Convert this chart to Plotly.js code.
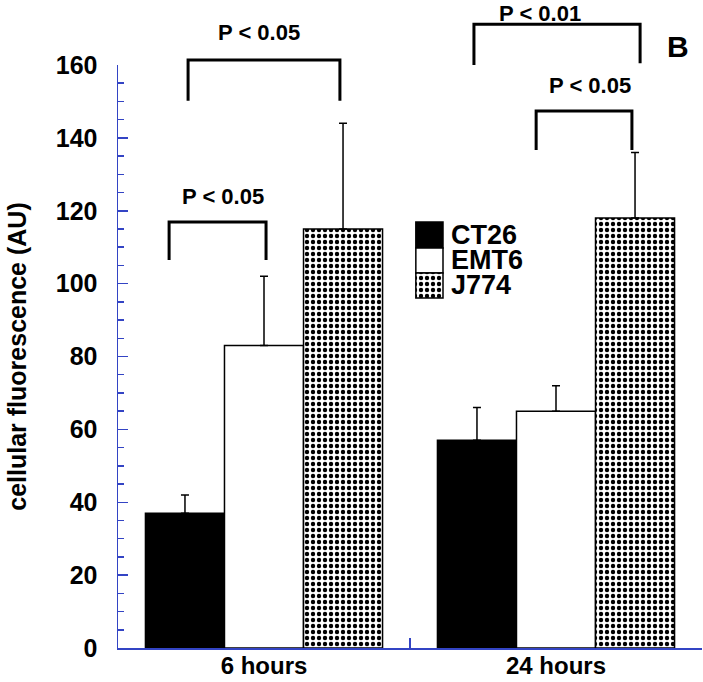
<!DOCTYPE html>
<html>
<head>
<meta charset="utf-8">
<script src="https://cdn.plot.ly/plotly-3.0.1.min.js"></script>
<style>html,body{margin:0;padding:0;background:#fff;}#chart{width:703px;height:682px;}</style>
</head>
<body>
<div id="chart"></div>
<script>
// ---- data ----
var categories = ['6 hours', '24 hours'];
var seriesNames = ['CT26', 'EMT6', 'J774'];
var ct26 = [37, 57];
var ct26Err = [5, 9];
var emt6 = [83, 65];
var emt6Err = [19, 7];
var j774 = [115, 118];
var j774Err = [29, 18];
var yTickVals = [0, 20, 40, 60, 80, 100, 120, 140, 160];

// significance brackets: x in category units, y in data units
var bracketLabels = ['P < 0.05', 'P < 0.05', 'P < 0.01', 'P < 0.05'];
var bracketX0 = [-0.325, -0.260, 0.719, 0.932];
var bracketX1 = [0.007, 0.260, 1.288, 1.260];
var bracketTop = [116.9, 161.4, 171.2, 147.4];
var bracketLeftBottom = [106.5, 150.2, 160.0, 136.7];
var bracketRightBottom = [106.5, 150.2, 160.5, 136.7];
var labelX = [-0.139, -0.017, 0.945, 1.116];
var labelY = [123.8, 168.8, 174.2, 154.5];

// ---- styling ----
var AXIS_BLUE = '#3344c4';
var FONT = 'Liberation Sans, Arial, sans-serif';
var yMax = 160;
function px(xv) { return (xv + 0.5) / categories.length; }
function py(yv) { return yv / yMax; }

var errStyle = function (arr) {
  return {type: 'data', symmetric: false, array: arr, arrayminus: arr.map(function () { return 0; }),
          color: 'black', thickness: 1.5, width: 4, visible: true};
};

var patternJ = {shape: '.', fgcolor: 'black', bgcolor: 'white', size: 6, solidity: 0.42, fillmode: 'replace'};

var traces = [
  {type: 'bar', name: seriesNames[0], x: categories, y: ct26, error_y: errStyle(ct26Err),
   marker: {color: 'black', line: {color: 'black', width: 1.5}}},
  {type: 'bar', name: seriesNames[1], x: categories, y: emt6, error_y: errStyle(emt6Err),
   marker: {color: 'white', line: {color: 'black', width: 1.5}}},
  {type: 'bar', name: seriesNames[2], x: categories, y: j774, error_y: errStyle(j774Err),
   marker: {color: 'white', pattern: patternJ, line: {color: 'black', width: 1.5}}}
];

// legend swatches on a hidden overlay axis (paper-like 0..1)
var swX = 0.510, swW = 0.0465;
var swTops = [0.7307, 0.6861, 0.6432];
var swBottoms = [0.6861, 0.6432, 0.6003];
var swMarkers = [
  {color: 'black', line: {color: 'black', width: 1.5}},
  {color: 'white', line: {color: 'black', width: 1.5}},
  {color: 'white', pattern: patternJ, line: {color: 'black', width: 1.5}}
];
for (var i = 0; i < 3; i++) {
  traces.push({type: 'bar', x: [swX], y: [swTops[i] - swBottoms[i]], base: [swBottoms[i]],
    width: [swW], offset: 0, xaxis: 'x2', yaxis: 'y2', marker: swMarkers[i],
    showlegend: false, hoverinfo: 'skip'});
}

var shapes = [];
var annotations = [];
for (var k = 0; k < bracketLabels.length; k++) {
  shapes.push({type: 'path', xref: 'paper', yref: 'paper',
    path: 'M' + px(bracketX0[k]) + ',' + py(bracketLeftBottom[k]) +
          ' L' + px(bracketX0[k]) + ',' + py(bracketTop[k]) +
          ' L' + px(bracketX1[k]) + ',' + py(bracketTop[k]) +
          ' L' + px(bracketX1[k]) + ',' + py(bracketRightBottom[k]),
    line: {color: 'black', width: 3}});
  annotations.push({xref: 'paper', yref: 'paper', x: px(labelX[k]), y: py(labelY[k]),
    text: bracketLabels[k], showarrow: false, xanchor: 'center', yanchor: 'middle',
    font: {family: FONT, size: 22, color: 'black', weight: 'bold'}});
}
var legTextY = [0.708, 0.665, 0.622];
for (var j = 0; j < seriesNames.length; j++) {
  annotations.push({xref: 'paper', yref: 'paper', x: 0.5685, y: legTextY[j], text: seriesNames[j],
    showarrow: false, xanchor: 'left', yanchor: 'middle', borderpad: 0,
    font: {family: FONT, size: 27, color: 'black', weight: 'bold'}});
}
annotations.push({xref: 'paper', yref: 'paper', x: 0.959, y: 1.031, text: 'B', showarrow: false,
  xanchor: 'center', yanchor: 'middle', font: {family: FONT, size: 30, color: 'black', weight: 'bold'}});

var layout = {
  width: 703, height: 682,
  margin: {l: 118, r: 1, t: 65, b: 34, pad: 0},
  paper_bgcolor: 'white', plot_bgcolor: 'white',
  barmode: 'group', bargap: 0.188, bargroupgap: 0,
  showlegend: false,
  font: {family: FONT, color: 'black'},
  xaxis: {type: 'category', range: [-0.5, 1.5], showline: true, linecolor: AXIS_BLUE, linewidth: 1.5,
    ticks: 'inside', tickson: 'boundaries', ticklen: 10, tickcolor: AXIS_BLUE, tickwidth: 1.5,
    showgrid: false, zeroline: false, automargin: false, ticklabelstandoff: -4,
    tickfont: {family: FONT, size: 24, color: 'black', weight: 'bold'}},
  yaxis: {range: [0, 160], tickvals: yTickVals, showline: true, linecolor: AXIS_BLUE, linewidth: 1.5,
    ticks: 'inside', ticklen: 10, tickcolor: AXIS_BLUE, tickwidth: 1.5,
    minor: {dtick: 5, ticks: 'inside', ticklen: 6, tickcolor: AXIS_BLUE, tickwidth: 1.5, showgrid: false},
    showgrid: false, zeroline: false, automargin: false, ticklabelstandoff: 14,
    tickfont: {family: FONT, size: 25, color: 'black', weight: 'bold'},
    title: {text: 'cellular fluorescence (AU)', standoff: 22,
      font: {family: FONT, size: 25, color: 'black', weight: 'bold'}}},
  xaxis2: {overlaying: 'x', range: [0, 1], visible: false, fixedrange: true},
  yaxis2: {overlaying: 'y', range: [0, 1], visible: false, fixedrange: true},
  shapes: shapes,
  annotations: annotations
};

Plotly.newPlot('chart', traces, layout, {displayModeBar: false, staticPlot: true});
</script>
</body>
</html>
